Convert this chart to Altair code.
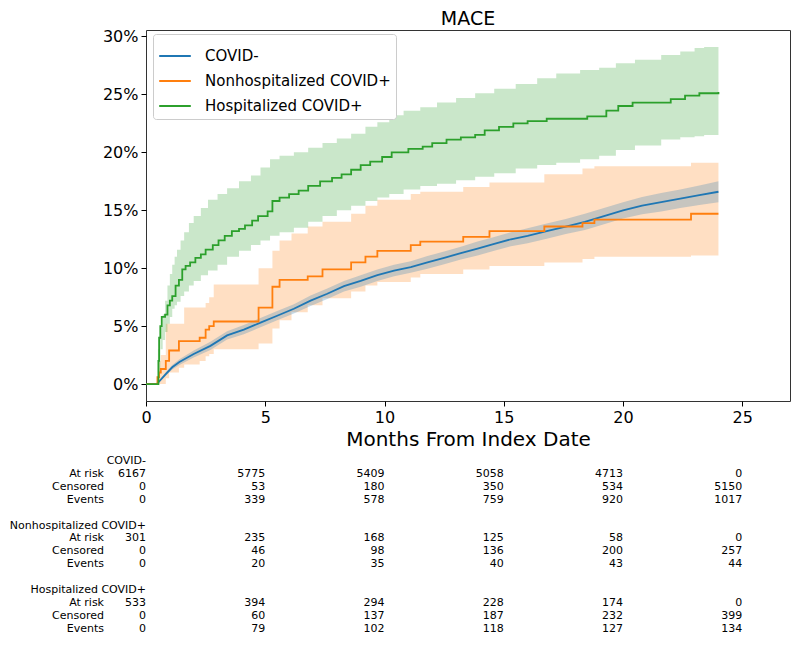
import altair as alt
import pandas as pd

FONT = "DejaVu Sans"
groups = ["COVID-", "Nonhospitalized COVID+", "Hospitalized COVID+"]
colors = ["#1f77b4", "#ff7f0e", "#2ca02c"]

# ---- COVID- (cumulative incidence, 95% CI) ----
neg_months = [0, 0.45, 0.8, 1.1, 1.4, 2.0, 2.7, 3.4, 4.1, 4.8, 5.5, 6.2, 6.9, 7.6, 8.3, 9.0, 9.7, 10.4,
              11.1, 11.8, 12.5, 13.2, 13.9, 14.6, 15.3, 16.0, 16.8, 17.6, 18.4, 19.2, 20.0, 20.8, 21.6,
              22.4, 23.2, 24.0]
neg_est = [0, 0, 0.008, 0.0145, 0.019, 0.026, 0.033, 0.042, 0.047, 0.053, 0.059, 0.065, 0.072, 0.078,
           0.0845, 0.089, 0.094, 0.098, 0.101, 0.105, 0.109, 0.113, 0.117, 0.121, 0.125, 0.128, 0.132,
           0.136, 0.14, 0.145, 0.150, 0.154, 0.157, 0.160, 0.163, 0.166]
neg_hi = [0, 0, 0.0095, 0.0165, 0.0215, 0.029, 0.0365, 0.0455, 0.051, 0.057, 0.063, 0.069, 0.0765, 0.0825,
          0.089, 0.094, 0.099, 0.103, 0.106, 0.1105, 0.1145, 0.1185, 0.123, 0.127, 0.131, 0.1345, 0.1385,
          0.1425, 0.147, 0.152, 0.157, 0.1615, 0.165, 0.168, 0.1715, 0.175]
neg_lo = [0, 0, 0.0065, 0.0125, 0.0165, 0.023, 0.0295, 0.0385, 0.043, 0.049, 0.055, 0.061, 0.0675, 0.0735,
          0.080, 0.084, 0.089, 0.093, 0.096, 0.0995, 0.1035, 0.1075, 0.111, 0.115, 0.119, 0.1215, 0.1255,
          0.1295, 0.133, 0.138, 0.143, 0.1465, 0.149, 0.152, 0.1545, 0.157]

# ---- Nonhospitalized COVID+ ----
nh_months = [0, 0.48, 0.55, 0.62, 0.83, 0.97, 1.38, 1.6, 2.25, 2.5, 2.65, 2.84, 4.72, 5.3, 5.6, 6.1,
             6.78, 7.4, 8.6, 9.2, 9.7, 11.1, 11.5, 13.3, 14.4, 16.7, 18.3, 18.8, 22.85, 24.0]
nh_est = [0, 0.006, 0.01, 0.013, 0.02, 0.029, 0.037, 0.037, 0.04, 0.047, 0.05, 0.054, 0.066, 0.084, 0.09,
          0.09, 0.093, 0.099, 0.105, 0.110, 0.115, 0.120, 0.123, 0.127, 0.132, 0.136, 0.139, 0.142,
          0.147, 0.147]
nh_hi = [0, 0.005, 0.02, 0.025, 0.052, 0.052, 0.052, 0.066, 0.066, 0.07, 0.075, 0.086, 0.10, 0.115, 0.124,
         0.13, 0.136, 0.14, 0.147, 0.154, 0.159, 0.164, 0.166, 0.17, 0.174, 0.181, 0.186, 0.188, 0.191,
         0.191]
nh_lo = [0, 0, 0, 0, 0.005, 0.01, 0.014, 0.017, 0.02, 0.024, 0.026, 0.03, 0.035, 0.048, 0.055, 0.062,
         0.068, 0.074, 0.08, 0.085, 0.088, 0.092, 0.095, 0.099, 0.102, 0.105, 0.108, 0.11, 0.111, 0.111]

# ---- Hospitalized COVID+ ----
h_months = [0, 0.48, 0.52, 0.55, 0.6, 0.66, 0.8, 0.9, 1.0, 1.1, 1.24, 1.38, 1.52, 1.66, 1.85, 2.07, 2.3,
            2.5, 2.8, 3.04, 3.3, 3.6, 3.9, 4.15, 4.45, 4.7, 5.1, 5.3, 5.6, 6.0, 6.4, 6.8, 7.3, 7.8, 8.2,
            8.6, 9.0, 9.4, 9.9, 10.3, 11.0, 11.6, 12.0, 12.6, 13.2, 13.8, 14.2, 14.8, 15.4, 16.0, 16.8,
            18.5, 19.3, 19.8, 20.4, 22.0, 22.6, 23.2, 24.0]
h_est = [0, 0, 0.02, 0.04, 0.05, 0.058, 0.06, 0.068, 0.072, 0.076, 0.085, 0.09, 0.099, 0.102, 0.105,
         0.109, 0.112, 0.116, 0.12, 0.124, 0.128, 0.132, 0.134, 0.137, 0.141, 0.145, 0.149, 0.158, 0.161,
         0.164, 0.167, 0.171, 0.175, 0.178, 0.181, 0.185, 0.189, 0.192, 0.196, 0.2, 0.203, 0.205, 0.208,
         0.211, 0.213, 0.215, 0.219, 0.222, 0.225, 0.227, 0.229, 0.231, 0.236, 0.24, 0.243, 0.246, 0.249,
         0.251, 0.252]
h_band_months = [0, 0.48, 0.5, 0.6, 0.7, 0.8, 0.9, 1.0, 1.1, 1.2, 1.3, 1.45, 1.6, 1.8, 2.0, 2.3, 2.6, 3.0,
                 3.4, 3.9, 4.4, 4.8, 5.2, 5.6, 6.2, 6.8, 7.4, 8.0, 8.6, 9.2, 9.7, 10.2, 10.8, 11.5, 12.2,
                 13.0, 13.8, 14.6, 15.5, 16.4, 17.2, 18.2, 19.0, 19.7, 20.5, 21.6, 22.4, 23.0, 23.4, 24.0]
h_hi = [0, 0, 0.03, 0.05, 0.06, 0.072, 0.085, 0.095, 0.103, 0.11, 0.116, 0.124, 0.131, 0.139, 0.145,
        0.152, 0.159, 0.164, 0.169, 0.175, 0.18, 0.187, 0.194, 0.197, 0.2, 0.204, 0.208, 0.212, 0.216,
        0.222, 0.226, 0.232, 0.236, 0.239, 0.243, 0.247, 0.251, 0.255, 0.259, 0.264, 0.268, 0.271, 0.273,
        0.277, 0.28, 0.284, 0.287, 0.29, 0.291, 0.291]
h_lo = [0, 0, 0.01, 0.03, 0.038, 0.045, 0.052, 0.058, 0.065, 0.068, 0.071, 0.076, 0.08, 0.085, 0.089,
        0.094, 0.098, 0.103, 0.11, 0.115, 0.12, 0.124, 0.128, 0.131, 0.135, 0.14, 0.145, 0.15, 0.154,
        0.158, 0.161, 0.164, 0.168, 0.171, 0.173, 0.176, 0.179, 0.182, 0.186, 0.189, 0.191, 0.194, 0.197,
        0.202, 0.206, 0.211, 0.213, 0.214, 0.215, 0.217]

# ---- number-at-risk table ----
table_months = [0, 5, 10, 15, 20, 25]
row_names = ["At risk", "Censored", "Events"]
neg_table = [[6167, 5775, 5409, 5058, 4713, 0],
             [0, 53, 180, 350, 534, 5150],
             [0, 339, 578, 759, 920, 1017]]
nh_table = [[301, 235, 168, 125, 58, 0],
            [0, 46, 98, 136, 200, 257],
            [0, 20, 35, 40, 43, 44]]
h_table = [[533, 394, 294, 228, 174, 0],
           [0, 60, 137, 187, 232, 399],
           [0, 79, 102, 118, 127, 134]]

# ------------------------------------------------------------------
x_scale = alt.Scale(domain=[0, 27], nice=False, zero=False)
y_scale = alt.Scale(domain=[-0.0146, 0.3056], nice=False, zero=False)
x_axis = alt.Axis(title="Months From Index Date", values=[0, 5, 10, 15, 20, 25], format="d",
                  grid=False, domain=False, tickColor="black", tickSize=5, labelFontSize=16,
                  labelColor="black", labelFont=FONT, labelPadding=3, labelFlush=False,
                  titleFont=FONT, titleFontSize=20, titleFontWeight="normal", titleColor="black",
                  titlePadding=4)
y_axis = alt.Axis(title=None, values=[0, 0.05, 0.10, 0.15, 0.20, 0.25, 0.30], format=".0%",
                  grid=False, domain=False, tickColor="black", tickSize=5, labelFontSize=16,
                  labelColor="black", labelFont=FONT, labelPadding=3, labelFlush=False)
color_scale = alt.Scale(domain=groups, range=colors)
legend = alt.Legend(title=None, orient="none", legendX=7, legendY=4, symbolType="stroke",
                    symbolStrokeWidth=2, symbolSize=1000, labelFontSize=15, labelFont=FONT,
                    labelColor="black", labelLimit=400, fillColor="white", strokeColor="#cccccc",
                    cornerRadius=3, padding=5, rowPadding=-3, labelOffset=13)


def band_df(months, lo, hi, g):
    return pd.DataFrame({"month": months, "lo": lo, "hi": hi, "group": g})


def line_df(months, est, g):
    return pd.DataFrame({"month": months, "value": est, "group": g})


def band(df, color, interp):
    return alt.Chart(df).mark_area(interpolate=interp, opacity=0.25, color=color).encode(
        x=alt.X("month:Q", scale=x_scale, axis=x_axis),
        y=alt.Y("lo:Q", scale=y_scale, axis=y_axis),
        y2="hi:Q",
    )


def line(df, interp):
    return alt.Chart(df).mark_line(interpolate=interp, strokeWidth=1.8).encode(
        x=alt.X("month:Q", scale=x_scale, axis=x_axis),
        y=alt.Y("value:Q", scale=y_scale, axis=y_axis),
        color=alt.Color("group:N", scale=color_scale, legend=legend),
    )


main = alt.layer(
    band(band_df(nh_months, nh_lo, nh_hi, groups[1]), colors[1], "step-after"),
    band(band_df(neg_months, neg_lo, neg_hi, groups[0]), colors[0], "linear"),
    band(band_df(h_band_months, h_lo, h_hi, groups[2]), colors[2], "step-after"),
    line(line_df(neg_months, neg_est, groups[0]), "linear"),
    line(line_df(nh_months, nh_est, groups[1]), "step-after"),
    line(line_df(h_months, h_est, groups[2]), "step-after"),
)

# table rows: header at row 0/5/10, values on the three following rows
num_rows, head_rows, lab_rows = [], [], []
for gi, (g, tab) in enumerate(zip(groups, [neg_table, nh_table, h_table])):
    base = gi * 5
    head_rows.append({"month": 0, "text": g, "row": base})
    for ri, (name, vals) in enumerate(zip(row_names, tab)):
        lab_rows.append({"text": name, "row": base + ri + 1})
        for m, v in zip(table_months, vals):
            num_rows.append({"month": m, "text": str(v), "row": base + ri + 1})

row_scale = alt.Scale(domain=[0, 13], range=[431, 598.7])
tbl_num = alt.Chart(pd.DataFrame(num_rows + head_rows)).mark_text(
    align="right", baseline="middle", fontSize=11, font=FONT, color="black").encode(
    x=alt.X("month:Q", scale=x_scale, axis=x_axis),
    y=alt.Y("row:Q", scale=row_scale, axis=None),
    text="text:N",
)
tbl_lab = alt.Chart(pd.DataFrame(lab_rows)).mark_text(
    align="right", baseline="middle", fontSize=11, font=FONT, color="black").encode(
    x=alt.value(-42),
    y=alt.Y("row:Q", scale=row_scale, axis=None),
    text="text:N",
)
table = alt.layer(tbl_num, tbl_lab)

chart = alt.layer(main, table).resolve_scale(y="independent").properties(
    width=644, height=371,
    padding={"left": 138, "top": 22, "right": 1, "bottom": 237},
    autosize=alt.AutoSizeParams(type="none"),
    title=alt.Title("MACE", fontSize=19, font=FONT, fontWeight="normal", color="black", offset=-1),
).configure_view(stroke="#333333", strokeWidth=1)

chart.save("out.html", embed_options={"renderer": "svg", "actions": False})
